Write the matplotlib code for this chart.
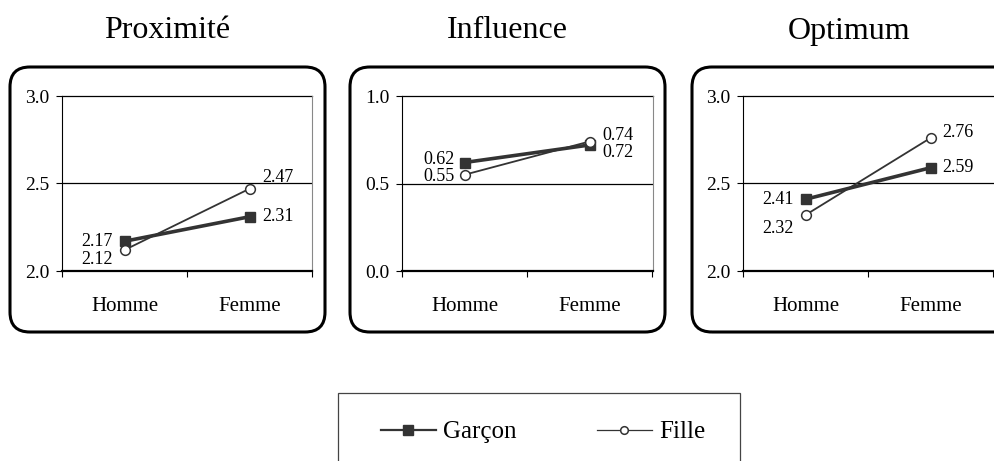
import matplotlib
matplotlib.use('Agg')
import matplotlib.pyplot as plt
from matplotlib.patches import FancyBboxPatch, Rectangle
from matplotlib.lines import Line2D

plt.rcParams['font.family'] = ['Liberation Serif', 'DejaVu Serif']

# data
titles = ['Proximité', 'Influence', 'Optimum']
categories = ['Homme', 'Femme']
garcon = [[2.17, 2.31], [0.62, 0.72], [2.41, 2.59]]
fille = [[2.12, 2.47], [0.55, 0.74], [2.32, 2.76]]
ylims = [(2.0, 3.0), (0.0, 1.0), (2.0, 3.0)]
yticks = [[2.0, 2.5, 3.0], [0.0, 0.5, 1.0], [2.0, 2.5, 3.0]]

# label offsets in pixels (garcon, fille) per panel, per category
g_off = [[(-12, 0), (13, 0)], [(-10, 3), (13, -7)], [(-12, 0), (12, 0)]]
f_off = [[(-12, -10), (13, 11)], [(-10, -2), (13, 6)], [(-12, -13), (12, 6)]]

W, H = 994, 461
fig = plt.figure(figsize=(W / 100, H / 100), dpi=100)

ax_left = [62, 402, 743]
ax_widths = [250, 251, 256]
box_left = [10, 350, 692]
box_widths = [315, 315, 340]
ax_top, ax_bot = 96, 271

col = '#333333'
x = [0, 1]

for i in range(3):
    # rounded panel frame
    fig.patches.append(FancyBboxPatch(
        (box_left[i] / W, (H - 332) / H), box_widths[i] / W, (332 - 67) / H,
        boxstyle='round,pad=0,rounding_size=0.02', transform=fig.transFigure,
        facecolor='none', edgecolor='black', linewidth=2.2,
        mutation_aspect=W / H))
    fig.text((box_left[i] + 315 / 2) / W, 1 - 31 / H, titles[i],
             ha='center', va='center', fontsize=23)

    ax = fig.add_axes([ax_left[i] / W, (H - ax_bot) / H, ax_widths[i] / W,
                       (ax_bot - ax_top) / H])
    ax.set_xlim(-0.5, -0.5 + 2.0 * ax_widths[i] / 250)
    ax.set_ylim(*ylims[i])
    ax.set_yticks(yticks[i])
    ax.set_yticklabels(['%.1f' % v for v in yticks[i]], fontsize=14)
    ax.set_xticks([-0.5, 0.5, 1.5])
    ax.set_xticklabels([])
    ax.set_xticks(x, minor=True)
    ax.set_xticklabels(categories, minor=True, fontsize=15)
    ax.tick_params(axis='x', which='major', direction='out', length=4,
                   width=0.8)
    ax.tick_params(axis='x', which='minor', length=0, pad=19)
    ax.tick_params(axis='y', direction='out', length=4, width=0.8, pad=5)
    ax.axhline(yticks[i][1], color='black', linewidth=0.9)
    ax.axhline(yticks[i][2], color='black', linewidth=0.9, clip_on=False)
    ax.spines['top'].set_visible(False)
    ax.spines['right'].set_color('#888888')
    ax.spines['right'].set_linewidth(0.8)
    ax.spines['left'].set_linewidth(0.8)
    ax.spines['bottom'].set_linewidth(1.6)

    ax.plot(x, garcon[i], color=col, linewidth=2.6, marker='s',
            markersize=7, markerfacecolor=col, markeredgecolor=col, zorder=3)
    ax.plot(x, fille[i], color=col, linewidth=1.3, marker='o',
            markersize=7, markerfacecolor='white', markeredgecolor=col,
            markeredgewidth=1.1, zorder=4)

    for j in range(2):
        for vals, offs in ((garcon[i], g_off[i]), (fille[i], f_off[i])):
            dx, dy = offs[j]
            ax.annotate('%.2f' % vals[j], (x[j], vals[j]),
                        xytext=(dx, dy), textcoords='offset pixels',
                        ha='right' if dx < 0 else 'left', va='center',
                        fontsize=13)

# legend
fig.patches.append(Rectangle((338 / W, -0.1), (740 - 338) / W,
                             (H - 393) / H + 0.1, transform=fig.transFigure,
                             facecolor='none', edgecolor='#444444',
                             linewidth=0.9))
handles = [
    Line2D([], [], color=col, linewidth=1.6, marker='s', markersize=7,
           markerfacecolor=col),
    Line2D([], [], color=col, linewidth=0.9, marker='o', markersize=5.5,
           markerfacecolor='white', markeredgewidth=1.1),
]
fig.legend(handles, ['Garçon', 'Fille'], loc='center',
           bbox_to_anchor=(543 / W, 1 - 432 / H), ncol=2, frameon=False,
           fontsize=18, handlelength=2.2, handletextpad=0.3,
           columnspacing=3.2)

fig.savefig('out.png', dpi=100)
